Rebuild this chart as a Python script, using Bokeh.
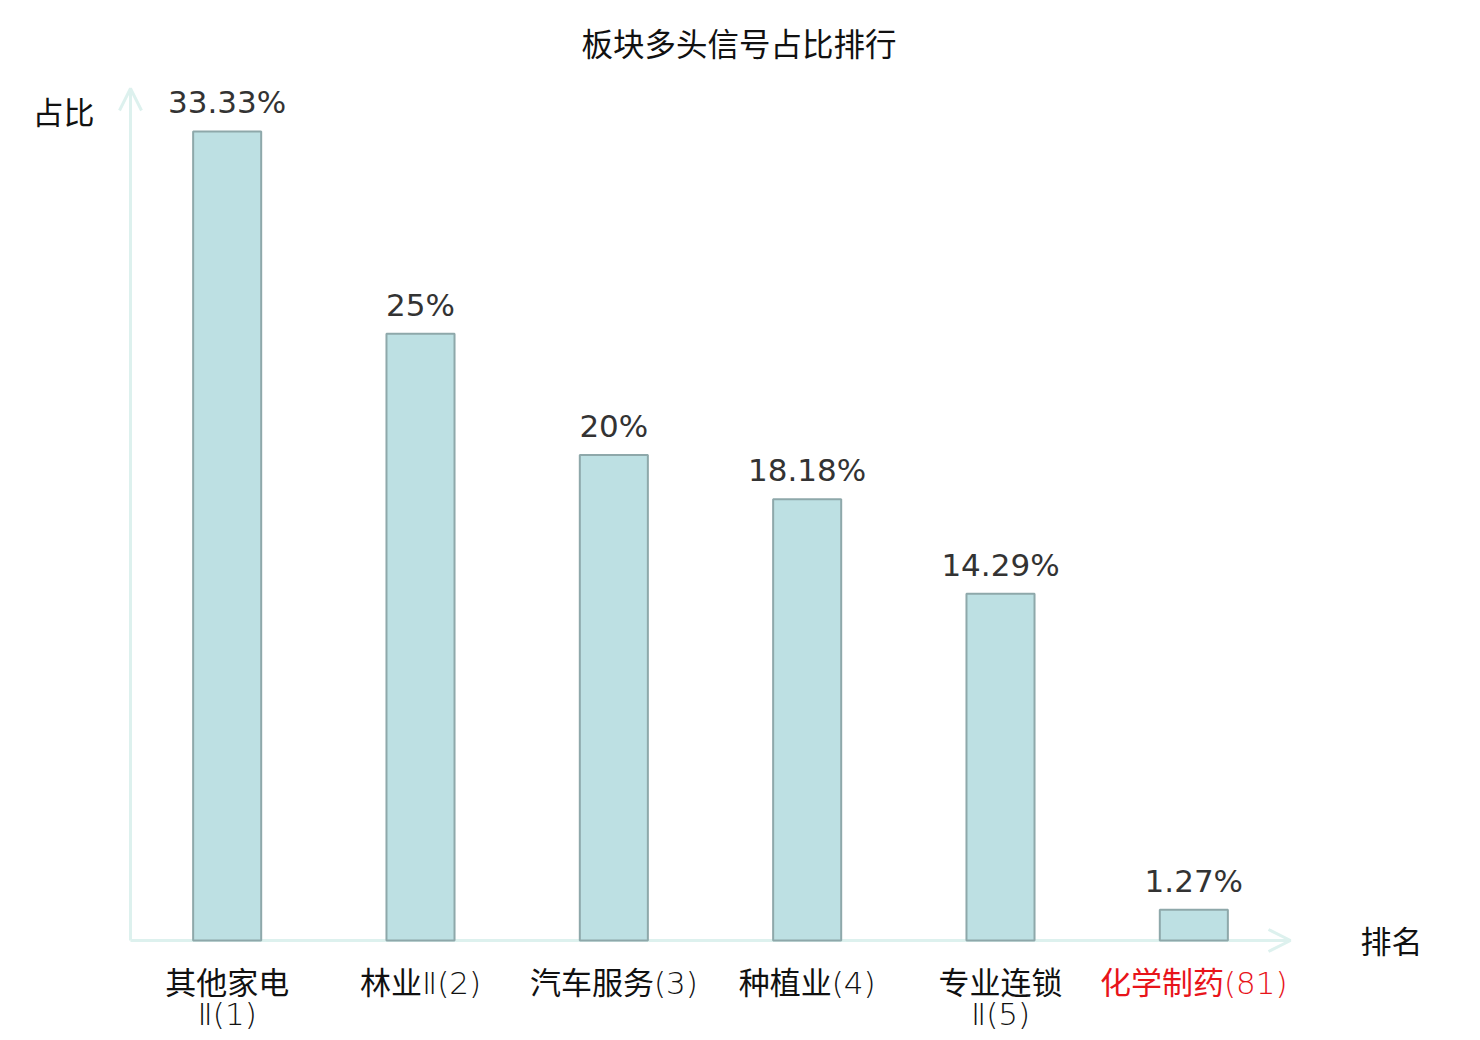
from bokeh.plotting import figure
from bokeh.models import Range1d, Arrow, OpenHead, ColumnDataSource
from bokeh.core.properties import value
from bokeh.embed import file_html
from bokeh.resources import INLINE

# ---- data ----
categories = ["其他家电Ⅱ", "林业Ⅱ", "汽车服务", "种植业", "专业连锁Ⅱ", "化学制药"]
ranks = [1, 2, 3, 4, 5, 81]
tick_labels = ["其他家电\nⅡ(1)", "林业Ⅱ(2)", "汽车服务(3)", "种植业(4)", "专业连锁\nⅡ(5)", "化学制药(81)"]
shares = [33.33, 25, 20, 18.18, 14.29, 1.27]
share_labels = ["33.33%", "25%", "20%", "18.18%", "14.29%", "1.27%"]
highlight = [False, False, False, False, False, True]
title_text = "板块多头信号占比排行"
y_name = "占比"
x_name = "排名"

FONT = "DejaVu Sans, Noto Sans CJK SC"
TICK_FONT = "DejaVu Sans Light, DejaVu Sans ExtraLight, Noto Sans CJK SC"
CJK_FONT = "Noto Sans CJK SC, DejaVu Sans"
FS = "31px"
AXIS_C = "#ddf1ee"
BAR_FILL = "#bde0e3"
BAR_LINE = "#8ea8aa"

W, H = 1480, 1040
# layout of the plotting area in pixels
AX_LEFT, AX_RIGHT, AX_BOTTOM, AX_TOP = 130, 1290, 940, 88
n = len(categories)
px_x = (AX_RIGHT - AX_LEFT) / n
y_axis_max = 35.1
px_y = (AX_BOTTOM - AX_TOP) / y_axis_max

def dx(px):
    return (px - AX_LEFT) / px_x

def dy(py):
    return (AX_BOTTOM - py) / px_y

xs = [i + 0.5 for i in range(n)]

p = figure(width=W, height=H, output_backend="svg", toolbar_location=None,
           x_range=Range1d(dx(0), dx(W)), y_range=Range1d(dy(H), dy(0)),
           min_border=0)
p.outline_line_color = None
p.grid.visible = False
p.axis.visible = False
p.background_fill_color = "white"
p.border_fill_color = "white"

# axis lines with arrow heads
p.add_layout(Arrow(end=OpenHead(size=22, line_color=AXIS_C, line_width=3),
                   x_start=0, y_start=0, x_end=n, y_end=0,
                   line_color=AXIS_C, line_width=3, level="underlay"))
p.add_layout(Arrow(end=OpenHead(size=22, line_color=AXIS_C, line_width=3),
                   x_start=0, y_start=0, x_end=0, y_end=y_axis_max,
                   line_color=AXIS_C, line_width=3, level="underlay"))

src = ColumnDataSource(dict(x=xs, top=shares, lab=share_labels,
                            ly=[v + 29 / px_y for v in shares]))
p.vbar(x="x", top="top", width=0.352, bottom=0, source=src,
       fill_color=BAR_FILL, line_color=BAR_LINE, line_width=2)
p.text(x="x", y="ly", text="lab", source=src, text_align="center", text_baseline="alphabetic",
       text_font=value(FONT), text_font_size=FS, text_color="#333333")

# category labels under the axis (one glyph per text line)
tick_colors = ["#e8141a" if h else "#111111" for h in highlight]
line1 = [t.split("\n")[0] for t in tick_labels]
line2 = [t.split("\n")[1] if "\n" in t else "" for t in tick_labels]
tsrc = ColumnDataSource(dict(x=xs, y1=[dy(964)] * n, y2=[dy(995)] * n,
                             t1=line1, t2=line2, c=tick_colors))
p.text(x="x", y="y1", text="t1", source=tsrc, text_align="center", text_baseline="top",
       text_font=value(TICK_FONT), text_font_size=FS, text_color="c")
p.text(x="x", y="y2", text="t2", source=tsrc, text_align="center", text_baseline="top",
       text_font=value(TICK_FONT), text_font_size=FS, text_color="c")

# title and axis names
p.text(x=[dx(738.5)], y=[dy(41.5)], text=[title_text], text_align="center", text_baseline="middle",
       text_font=value(CJK_FONT), text_font_size="31.5px", text_color="#111111")
asrc = ColumnDataSource(dict(x=[dx(63), dx(1391)], y=[dy(110), dy(939)], t=[y_name, x_name]))
p.text(x="x", y="y", text="t", source=asrc, text_align="center", text_baseline="middle",
       text_font=value(CJK_FONT), text_font_size=FS, text_color="#111111")

open("out.html", "w").write(file_html(p, INLINE))
